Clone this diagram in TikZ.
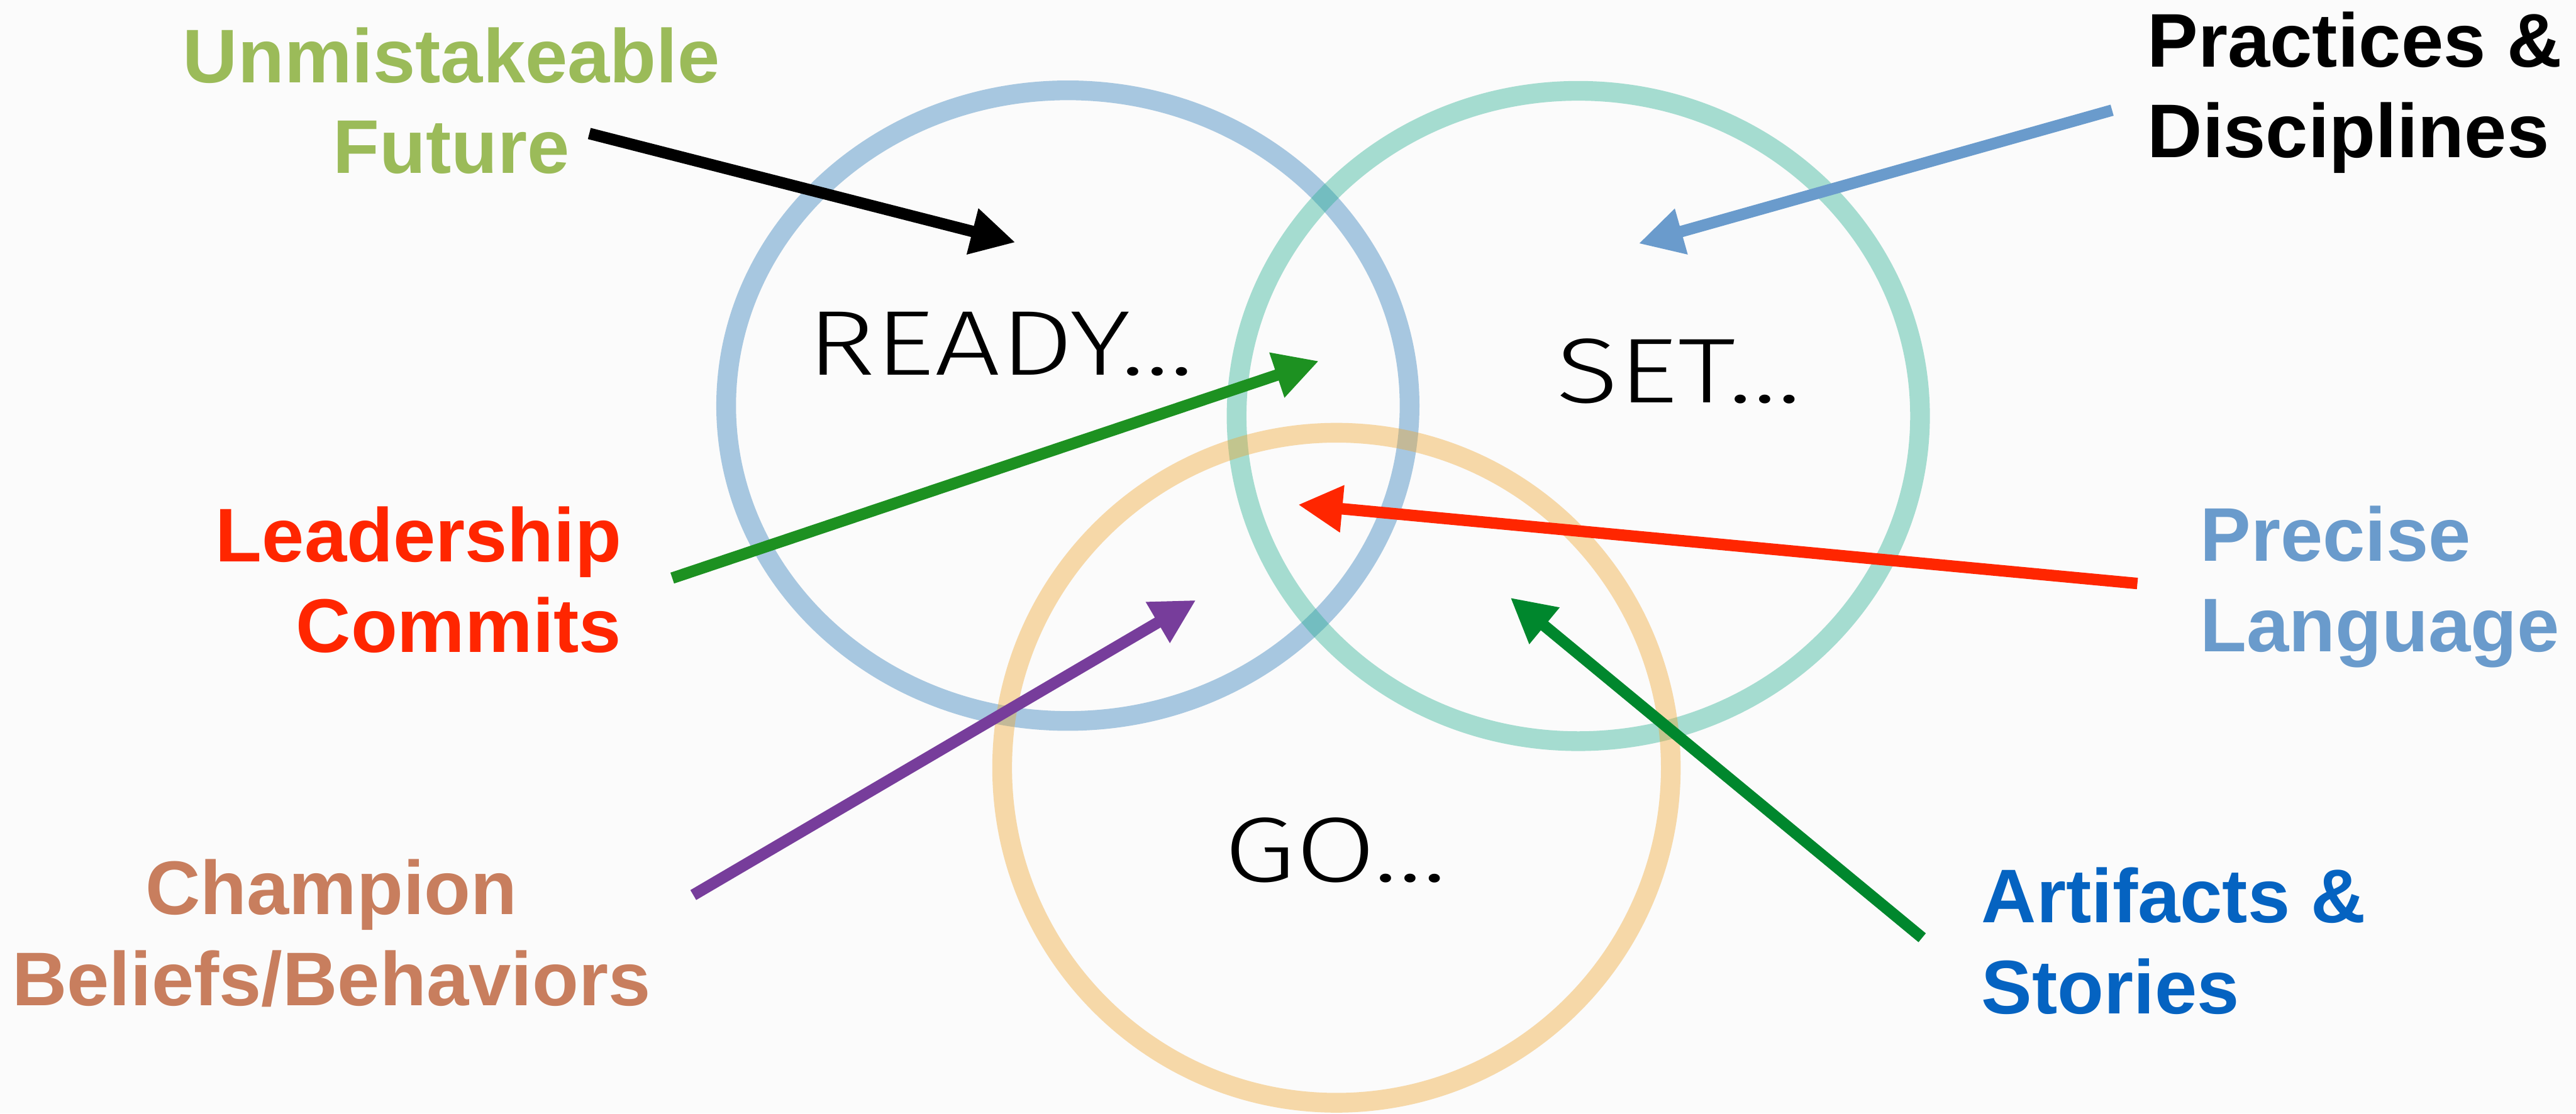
\documentclass[tikz,border=0pt]{standalone}
\usepackage{fontspec}
\setmainfont{Liberation Sans}
\newfontfamily\lightfont{Fira Sans Light}[FakeStretch=1.26]
\usetikzlibrary{arrows.meta}

\definecolor{bgcol}{RGB}{251,251,251}
\definecolor{ringblue}{RGB}{41,121,184}
\definecolor{ringteal}{RGB}{38,174,144}
\definecolor{ringorange}{RGB}{239,164,44}
\definecolor{futuregreen}{RGB}{155,187,89}
\definecolor{leadred}{RGB}{255,38,0}
\definecolor{softblue}{RGB}{106,155,204}
\definecolor{champbrown}{RGB}{200,126,94}
\definecolor{storyblue}{RGB}{5,99,193}
\definecolor{arrgreen}{RGB}{29,145,33}
\definecolor{arrdeepgreen}{RGB}{0,135,45}
\definecolor{arrpurple}{RGB}{119,61,155}

\tikzset{
  ring/.style={line width=12pt, draw opacity=0.4},
  pointer/.style={line width=7pt, -{Triangle[length=27pt,width=27pt]}},
  tag/.style={inner sep=0pt, font=\bfseries\fontsize{46.3}{55}\selectfont},
  stage/.style={inner sep=0pt, anchor=base west, font=\lightfont\fontsize{56}{60}\selectfont}
}

\begin{document}
\begin{tikzpicture}[x=1pt,y=-1pt]
  % canvas
  \fill[bgcol] (0,0) rectangle (1568,678);
  \useasboundingbox (0,0) rectangle (1568,678);

  % the three rings
  \draw[ring, ringblue]   (650,247)   ellipse [x radius=208pt, y radius=192pt];
  \draw[ring, ringteal]   (960.7,253.3) ellipse [x radius=208pt, y radius=198pt];
  \draw[ring, ringorange] (813.5,467.5) ellipse [x radius=203.5pt, y radius=204pt];

  % stage words
  \node[stage] (ready) at (491,228.2) {READY…};
  \node[stage] (set)   at (947,245)   {SET…};
  \node[stage] (go)    at (745,537)   {GO…};

  % labels
  \node[tag, anchor=base, text=futuregreen] (uf1) at (274.8,50.4)  {Unmistakeable};
  \node[tag, anchor=base, text=futuregreen] (uf2) at (274.8,105.6) {Future};

  \node[tag, anchor=base west, text=black] (pd1) at (1307,40.7) {Practices \&};
  \node[tag, anchor=base west, text=black] (pd2) at (1307,95.7) {Disciplines};

  \node[tag, anchor=base east, text=leadred] (lc1) at (378.5,342) {Leadership};
  \node[tag, anchor=base east, text=leadred] (lc2) at (378.5,397) {Commits};

  \node[tag, anchor=base west, text=softblue] (pl1) at (1339,341.6) {Precise};
  \node[tag, anchor=base west, text=softblue] (pl2) at (1339,396.8) {Language};

  \node[tag, anchor=base, text=champbrown] (cb1) at (201.7,556.9) {Champion};
  \node[tag, anchor=base, text=champbrown] (cb2) at (201.7,612.3) {Beliefs/Behaviors};

  \node[tag, anchor=base west, text=storyblue] (as1) at (1206,561.8) {Artifacts \&};
  \node[tag, anchor=base west, text=storyblue] (as2) at (1206,617.3) {Stories};

  % arrow ends
  \coordinate (ufA) at (358.7,81.3);   \coordinate (ufB) at (618.1,147.6);
  \coordinate (pdA) at (1285.6,67.1);  \coordinate (pdB) at (997.4,148.3);
  \coordinate (lcA) at (409.2,352);    \coordinate (lcB) at (802.8,219.8);
  \coordinate (plA) at (1301,355.3);   \coordinate (plB) at (790.1,307.3);
  \coordinate (cbA) at (422,545);      \coordinate (cbB) at (728,365.4);
  \coordinate (asA) at (1170,571);     \coordinate (asB) at (919.3,363.9);

  % arrows
  \draw[pointer, black]        (ufA) -- (ufB);
  \draw[pointer, softblue]     (pdA) -- (pdB);
  \draw[pointer, arrgreen]     (lcA) -- (lcB);
  \draw[pointer, leadred]      (plA) -- (plB);
  \draw[pointer, arrpurple]    (cbA) -- (cbB);
  \draw[pointer, arrdeepgreen] (asA) -- (asB);
\end{tikzpicture}
\end{document}
